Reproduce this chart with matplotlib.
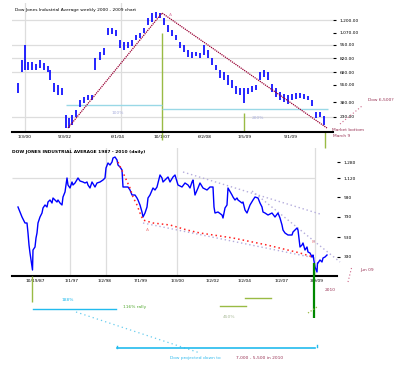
import matplotlib
matplotlib.use('Agg')
import matplotlib.pyplot as plt

W, H = 400, 373

# ---------------- top panel data (weekly bars) ----------------
top_x = [18, 22, 25, 28, 32, 36, 40, 44, 48, 50, 54, 58, 62, 66, 69, 72, 76, 80, 84, 88,
         92, 95, 100, 104, 108, 112, 116, 120, 124, 128, 132, 136, 140, 144, 148, 152, 156,
         160, 164, 168, 172, 176, 180, 184, 188, 192, 196, 200, 204, 208, 212, 216, 220,
         224, 228, 232, 236, 240, 244, 248, 252, 256, 260, 264, 268, 272, 276, 280, 284,
         288, 292, 296, 300, 304, 308, 312, 316, 320, 324]
top_hi = [570, 800, 950, 780, 780, 760, 800, 770, 740, 700, 570, 550, 520, 250, 220, 250,
          300, 400, 430, 450, 450, 820, 880, 920, 1120, 1120, 1100, 1000, 980, 980, 1000,
          1050, 1070, 1120, 1220, 1270, 1280, 1270, 1220, 1150, 1100, 1050, 980, 950, 900,
          880, 880, 870, 950, 900, 820, 750, 700, 680, 650, 600, 540, 520, 520, 520, 540,
          550, 680, 700, 680, 560, 520, 480, 460, 450, 460, 470, 470, 460, 440, 400, 280,
          280, 240]
top_lo = [470, 680, 700, 700, 700, 700, 720, 700, 680, 600, 480, 450, 450, 120, 120, 150,
          230, 330, 370, 400, 400, 700, 800, 850, 1050, 1060, 1040, 920, 900, 920, 940,
          1000, 1020, 1070, 1150, 1180, 1220, 1220, 1150, 1080, 1040, 1000, 920, 880, 830,
          820, 840, 820, 850, 820, 750, 700, 620, 600, 550, 520, 460, 450, 370, 460, 480,
          500, 600, 630, 600, 480, 430, 400, 380, 360, 400, 410, 420, 410, 400, 340, 220,
          230, 150]
top_trend_x = [68, 162, 327]
top_trend_y = [120, 1270, 120]
top_yticks = [1200, 1070, 950, 820, 680, 550, 380, 230]
top_ylabels = ['1,200.00', '1,070.00', '950.00', '820.00', '680.00', '550.00', '380.00', '230.00']
top_ygrid = [1200, 950, 820, 680, 230]
top_xticks = [25, 65, 118, 162, 205, 245, 291]
top_xlabels = ['1/3/00', '9/3/02', '6/1/04', '10/1/07', '6/2/08', '1/5/09', '9/1/09']
top_xgrid = [25, 121]

# ---------------- bottom panel data (daily line) ----------------
bot_x = [18, 20, 22, 25, 27, 28, 29, 30, 31.5, 32.5, 33, 35, 36, 37, 38, 40, 42, 43, 45, 47,
         48, 50, 52, 53, 55, 57, 58, 60, 62, 63, 65, 67, 68, 70, 72, 73, 75, 78, 80, 83, 85,
         87, 88, 90, 92, 95, 97, 100, 103, 105, 106, 108, 110, 112, 113, 115, 117, 118, 120,
         122, 123, 125, 128, 130, 132, 135, 137, 138, 140, 142, 143, 145, 147, 148, 150, 153,
         155, 157, 158, 160, 162, 163, 167, 168, 170, 173, 175, 178, 182, 185, 188, 190, 192,
         193, 195, 198, 200, 203, 207, 210, 213, 214, 215, 218, 222, 223, 225, 227, 228, 232,
         233, 235, 237, 238, 242, 243, 245, 247, 250, 253, 255, 258, 260, 262, 263, 265, 268,
         272, 275, 278, 280, 282, 283, 285, 288, 292, 293, 297, 298, 300, 302, 303, 305, 307,
         308, 310, 312, 313, 315, 317, 317.5, 318, 320, 322, 323, 325, 327]
bot_y = [830, 780, 730, 670, 670, 570, 450, 370, 270, 200, 400, 430, 520, 570, 670, 730,
         770, 820, 850, 830, 880, 900, 870, 920, 900, 880, 900, 870, 850, 930, 980, 1120, 1050,
         1020, 1080, 1050, 1070, 1120, 1090, 1080, 1070, 1080, 1050, 1020, 1080, 1030, 1070,
         1080, 1100, 1120, 1220, 1270, 1250, 1280, 1320, 1330, 1300, 1250, 1230, 1200, 1030,
         1030, 1030, 1000, 950, 950, 920, 900, 850, 780, 730, 770, 830, 920, 950, 1020, 1000,
         1030, 1070, 1150, 1120, 1080, 1120, 1130, 1080, 1130, 1150, 1050, 1030, 1070, 1050,
         1020, 1080, 1100, 950, 1020, 1070, 1020, 1000, 1030, 1030, 830, 770, 780, 750, 720,
         820, 850, 1020, 950, 930, 900, 920, 900, 870, 880, 800, 770, 850, 900, 930, 920, 870,
         830, 780, 770, 750, 770, 730, 770, 720, 650, 600, 570, 550, 550, 580, 620, 600, 430,
         450, 470, 400, 430, 380, 370, 330, 350, 230, 180, 270, 270, 300, 280, 320, 330, 350]
bot_curve_x = [118, 125, 130, 133, 137, 140, 143, 153, 170, 187, 200, 233, 267, 300, 313]
bot_curve_y = [1280, 1130, 1020, 930, 850, 770, 700, 670, 650, 600, 570, 520, 450, 370, 330]
bot_chan_low_x = [143, 315]
bot_chan_low_y = [670, 320]
bot_chan_up_x = [183, 320]
bot_chan_up_y = [1180, 760]
bot_chan_steep_x = [252, 340]
bot_chan_steep_y = [990, 280]
bot_yticks = [1280, 1120, 930, 730, 530, 330]
bot_ylabels = ['1,280', '1,120', '930', '730', '530', '330']
bot_ygrid = [1120]
bot_xticks = [35, 72, 105, 141, 178, 213, 245, 282, 317]
bot_xlabels = ['10/19/87', '1/1/97', '1/2/98', '7/1/99', '1/3/00', '1/2/02', '1/2/04',
               '1/2/07', '3/9/09']
bot_xgrid = [70, 106, 177, 315]

FS = 3.2
MAROON = '#993355'
CYAN = '#22bbee'
LCYAN = '#99d8e6'
YGREEN = '#99bb44'
LAV = '#b4acdc'

fig = plt.figure(figsize=(4, 3.73), dpi=100)
fig.patch.set_facecolor('white')


def style(ax):
    for s in ['top', 'left', 'right']:
        ax.spines[s].set_visible(False)
    ax.spines['bottom'].set_color('black')
    ax.spines['bottom'].set_linewidth(1.5)
    ax.yaxis.tick_right()
    ax.tick_params(axis='y', length=2, width=0.8, labelsize=FS, pad=3)
    ax.tick_params(axis='x', length=0, labelsize=FS, pad=2)
    ax.set_facecolor('none')


# ---------------- top panel ----------------
ax1 = fig.add_axes([12 / W, 1 - 132 / H, (333 - 12) / W, (132 - 3) / H])
ax1.set_xlim(12, 333)
ax1.set_ylim(80, 1370)
style(ax1)
for g in top_ygrid:
    ax1.axhline(g, color='#dddddd', lw=0.9, zorder=0)
for g in top_xgrid:
    ax1.axvline(g, color='#dddddd', lw=0.9, zorder=0)
ax1.set_yticks(top_yticks)
ax1.set_yticklabels(top_ylabels)
ax1.set_xticks(top_xticks)
ax1.set_xticklabels(top_xlabels)
ax1.vlines(top_x, top_lo, top_hi, color='#0000ff', lw=1.2, zorder=3)
ax1.plot(top_trend_x, top_trend_y, color='#990033', lw=0.9, ls=(0, (1, 0.7)), zorder=4)
ax1.vlines(162, 0, 1070, color=YGREEN, lw=1.0, clip_on=False, zorder=2)
ax1.vlines(244, 80, 270, color=YGREEN, lw=1.0, clip_on=False, zorder=2)
ax1.vlines(325, -80, 80, color=YGREEN, lw=1.0, clip_on=False, zorder=2)
ax1.hlines(350, 66, 162, color=LCYAN, lw=1.0, zorder=2)
ax1.hlines(310, 162, 328, color=LCYAN, lw=1.0, zorder=2)
ax1.text(118, 270, '100%', color='#aab0dd', fontsize=FS, ha='center', va='center')
ax1.text(258, 220, '200%', color='#aab0dd', fontsize=FS, ha='center', va='center')
ax1.text(170, 1250, 'A', color='#dd88aa', fontsize=FS, ha='center', va='center')
fig.text(15 / W, 1 - 10 / H, 'Dow Jones Industrial Average weekly 2000 - 2009 chart',
         fontsize=FS, color='black', va='center')

# ---------------- bottom panel ----------------
ax2 = fig.add_axes([12 / W, 1 - 276 / H, (337 - 12) / W, (276 - 148) / H])
ax2.set_xlim(12, 337)
ax2.set_ylim(140, 1420)
style(ax2)
for g in bot_ygrid:
    ax2.hlines(g, 12, 315, color='#dddddd', lw=0.9, zorder=0)
for g in bot_xgrid:
    ax2.axvline(g, color='#dddddd', lw=0.9, zorder=0)
ax2.set_yticks(bot_yticks)
ax2.set_yticklabels(bot_ylabels)
ax2.set_xticks(bot_xticks)
ax2.set_xticklabels(bot_xlabels)
ax2.plot(bot_x, bot_y, color='#0000ff', lw=1.0, zorder=3)
ax2.plot(bot_curve_x, bot_curve_y, color='#ff2222', lw=1.1, ls=(0, (1, 2)), zorder=4)
ax2.plot(bot_chan_low_x, bot_chan_low_y, color=LAV, lw=1.0, ls=(0, (1, 2)), zorder=2)
ax2.plot(bot_chan_up_x, bot_chan_up_y, color=LAV, lw=1.0, ls=(0, (1, 2)), zorder=2)
ax2.plot(bot_chan_steep_x, bot_chan_steep_y, color=LAV, lw=1.0, ls=(0, (1, 2)), zorder=2,
         clip_on=False)
ax2.vlines(314, -280, 270, color='#008800', lw=1.6, clip_on=False, zorder=5)
ax2.vlines(32, -120, 140, color=YGREEN, lw=1.0, clip_on=False, zorder=5)
ax2.text(147, 600, 'A', color='#ee8888', fontsize=FS, ha='center', va='center')
ax2.text(313, 480, 'B', color='#ee8888', fontsize=FS, ha='center', va='center')
fig.text(12 / W, 1 - 152 / H, 'DOW JONES INDUSTRIAL AVERAGE 1987 - 2010 (daily)',
         fontsize=FS, color='black', va='center', fontweight='bold')

# ---------------- annotation overlay (figure pixels) ----------------
ann = fig.add_axes([0, 0, 1, 1])
ann.set_xlim(0, W)
ann.set_ylim(H, 0)
ann.axis('off')
ann.patch.set_alpha(0)

# top-right notes
ann.text(368, 100, 'Dow 6,500?', color=MAROON, fontsize=FS, va='center')
ann.plot([340, 362], [124, 106], color='#cc6688', lw=0.8, ls=(0, (1, 2)))
ann.text(332, 130, 'Market bottom', color=MAROON, fontsize=FS, va='center')
ann.text(333, 136, 'March 9', color=MAROON, fontsize=FS, va='center')

# bottom-right notes
ann.plot([348, 352], [282, 266], color='#cc6688', lw=0.8, ls=(0, (1, 2)))
ann.text(360, 270, 'Jun 09', color=MAROON, fontsize=FS, va='center')
ann.text(325, 290, '2010', color=MAROON, fontsize=FS, va='center')

# below bottom panel
ann.text(62, 300, '188%', color=CYAN, fontsize=FS, va='center')
ann.plot([33, 116], [309, 309], color=CYAN, lw=1.0)
ann.text(123, 307, '116% rally', color='#55aa33', fontsize=FS, va='center')
ann.plot([245, 271], [298, 298], color=YGREEN, lw=1.0)
ann.plot([220, 246], [306, 306], color=YGREEN, lw=1.0)
ann.text(223, 317, '450%', color='#aabb99', fontsize=FS, va='center')
ann.plot([308, 317], [313, 307], color=YGREEN, lw=0.9, ls=(0, (1, 1.5)))
ann.plot([76, 200], [312, 353], color='#66ccee', lw=0.9, ls=(0, (1, 2.5)))
ann.plot([117, 315], [348, 348], color=CYAN, lw=1.2)
ann.plot([117, 117], [346, 348], color=CYAN, lw=1.0)
ann.plot([317, 317], [345, 347], color=CYAN, lw=1.0)
ann.text(170, 358, 'Dow projected down to', color='#33bbee', fontsize=FS, va='center')
ann.text(236, 358, '7,000 - 5,500 in 2010', color=MAROON, fontsize=FS, va='center')

fig.savefig('out.png', dpi=100, facecolor='white')
